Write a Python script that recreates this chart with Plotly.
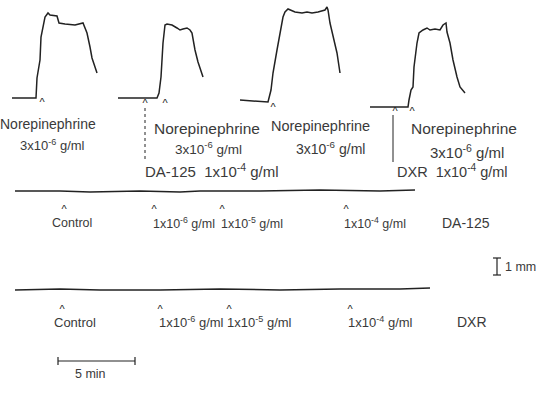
import plotly.graph_objects as go

# --- Recording traces (x = chart position, y = tension level, page coordinates) ---
trace1_x = [12, 36, 37, 40, 41, 43, 45, 48, 50, 57, 59, 65, 75, 83, 87, 90, 92, 95, 97]
trace1_y = [98, 98, 78, 60, 37, 25, 17, 13, 15, 16, 23, 24, 25, 23, 33, 47, 58, 67, 73]

trace2_x = [118, 157, 159, 161, 163, 164, 165, 167, 172, 177, 180, 183, 187, 190, 192, 195, 198, 203]
trace2_y = [98, 98, 93, 77, 43, 30, 25, 24, 25, 28, 30, 29, 28, 30, 33, 50, 62, 77]

trace3_x = [240, 268, 271, 273, 277, 281, 283, 285, 288, 295, 302, 307, 312, 318, 325, 327, 328, 330, 333, 337, 340]
trace3_y = [100, 102, 90, 73, 50, 30, 17, 12, 9, 12, 13, 12, 13, 12, 10, 7, 10, 23, 37, 53, 73]

trace4_x = [370, 408, 409, 411, 413, 414, 417, 419, 423, 427, 430, 435, 440, 443, 446, 447, 450, 453, 457, 460, 465]
trace4_y = [107, 107, 100, 90, 87, 67, 43, 33, 30, 28, 30, 29, 30, 25, 23, 32, 43, 60, 77, 87, 93]

base_da_x = [15, 60, 90, 140, 180, 200, 260, 320, 380, 415]
base_da_y = [191, 191, 192, 191, 192, 191, 191, 190, 191, 190]

base_dxr_x = [15, 60, 100, 160, 220, 280, 340, 400, 430]
base_dxr_y = [290, 289, 290, 290, 289, 290, 289, 289, 288]

# --- Label texts ---
top_texts = ["Norepinephrine", "3x10<sup>-6</sup> g/ml",
             "Norepinephrine", "3x10<sup>-6</sup> g/ml", "DA-125  1x10<sup>-4</sup> g/ml",
             "Norepinephrine", "3x10<sup>-6</sup> g/ml",
             "Norepinephrine", "3x10<sup>-6</sup> g/ml", "DXR  1x10<sup>-4</sup> g/ml"]
da_labels = ["Control", "1x10<sup>-6</sup> g/ml", "1x10<sup>-5</sup> g/ml", "1x10<sup>-4</sup> g/ml", "DA-125"]
dxr_labels = ["Control", "1x10<sup>-6</sup> g/ml", "1x10<sup>-5</sup> g/ml", "1x10<sup>-4</sup> g/ml", "DXR"]

# --- Layout of labels (positions / sizes) ---
top_pos = [(48, 124, 14), (52, 145, 13),
           (207, 128, 15.5), (208, 148, 13.5), (212, 170, 15),
           (320, 126, 14.5), (330, 148, 14),
           (464, 128, 15.5), (467, 151, 15), (452, 171, 14.5)]
top_carets_x = [42, 145, 165, 273, 395, 412]
top_carets_y = [103, 104, 104, 108, 112, 112]

da_label_x = [50, 151, 219, 342, 440]
da_label_size = [12.5, 12.5, 12.5, 12.5, 14]
da_caret_x = [64, 154, 222, 346]
dxr_label_x = [52, 157, 225, 346, 455]
dxr_label_size = [13, 13, 13, 13, 14]
dxr_caret_x = [62, 160, 229, 350]

INK = "#222222"
TXT = "#3a3a3a"
FONT = "Liberation Sans, Arial, sans-serif"

fig = go.Figure()
for xs, ys in [(trace1_x, trace1_y), (trace2_x, trace2_y), (trace3_x, trace3_y),
               (trace4_x, trace4_y), (base_da_x, base_da_y), (base_dxr_x, base_dxr_y)]:
    fig.add_trace(go.Scatter(x=xs, y=ys, mode="lines", line=dict(color=INK, width=1.5),
                             hoverinfo="skip", showlegend=False))

# carets
caret_x = top_carets_x + da_caret_x + dxr_caret_x
caret_y = top_carets_y + [210] * len(da_caret_x) + [310] * len(dxr_caret_x)
fig.add_trace(go.Scatter(x=caret_x, y=caret_y, mode="text", text=["^"] * len(caret_x),
                         textfont=dict(family=FONT, size=11, color=INK),
                         hoverinfo="skip", showlegend=False))

ann = []
for t, (x, y, s) in zip(top_texts, top_pos):
    ann.append(dict(text=t, x=x, y=y, xanchor="center", font=dict(family=FONT, size=s, color=TXT)))
for t, x, s in zip(da_labels, da_label_x, da_label_size):
    ann.append(dict(text=t, x=x, y=223, xanchor="left", font=dict(family=FONT, size=s, color=TXT)))
for t, x, s in zip(dxr_labels, dxr_label_x, dxr_label_size):
    ann.append(dict(text=t, x=x, y=322, xanchor="left", font=dict(family=FONT, size=s, color=TXT)))
ann.append(dict(text="1 mm", x=503, y=267, xanchor="left", font=dict(family=FONT, size=12.5, color=TXT)))
ann.append(dict(text="5 min", x=90, y=374, xanchor="center", font=dict(family=FONT, size=12.5, color=TXT)))
for a in ann:
    a.update(xref="x", yref="y", showarrow=False, yanchor="middle")
fig.update_layout(annotations=ann)

shapes = [
    # vertical markers for drug addition
    dict(type="line", x0=145, x1=145, y0=108, y1=160, line=dict(color=INK, width=1, dash="dot")),
    dict(type="line", x0=393, x1=393, y0=115, y1=162, line=dict(color=INK, width=1)),
    # 1 mm scale bar
    dict(type="line", x0=497, x1=497, y0=258, y1=275, line=dict(color=INK, width=1.2)),
    dict(type="line", x0=493, x1=501, y0=258, y1=258, line=dict(color=INK, width=1.2)),
    dict(type="line", x0=493, x1=501, y0=275, y1=275, line=dict(color=INK, width=1.2)),
    # 5 min scale bar
    dict(type="line", x0=58, x1=135, y0=361, y1=361, line=dict(color=INK, width=1.2)),
    dict(type="line", x0=58, x1=58, y0=357, y1=365, line=dict(color=INK, width=1.2)),
    dict(type="line", x0=135, x1=135, y0=357, y1=365, line=dict(color=INK, width=1.2)),
]
fig.update_layout(shapes=shapes)

fig.update_layout(
    width=555, height=395, margin=dict(l=0, r=0, t=0, b=0),
    paper_bgcolor="white", plot_bgcolor="white",
    xaxis=dict(range=[0, 555], visible=False, fixedrange=True),
    yaxis=dict(range=[395, 0], visible=False, fixedrange=True),
)
fig.write_html("out.html")
